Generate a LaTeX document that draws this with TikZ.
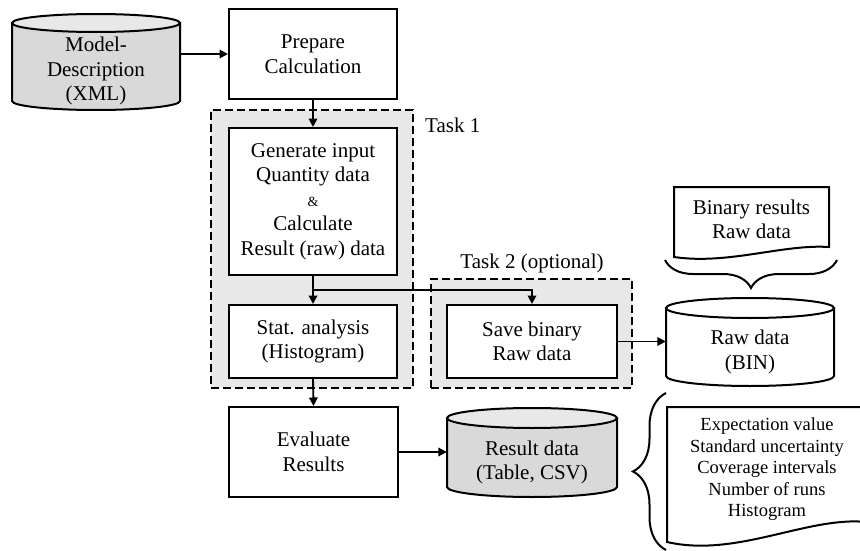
\documentclass[tikz,border=0pt]{standalone}
\usepackage{fontspec}
\setmainfont{Liberation Serif}
\usetikzlibrary{arrows.meta,decorations.pathreplacing}
\definecolor{grpfill}{HTML}{E8E8E8}
\definecolor{cylbody}{HTML}{D9D9D9}
\definecolor{cyltop}{HTML}{E8E8E8}
\newcommand\mainfs{\fontsize{21}{24.5}\selectfont}
\newcommand\docfs{\fontsize{18.5}{21.5}\selectfont}
% cylinder: name, x1, x2, ytop, ybot, r, body fill, top fill, text
\newcommand\mycyl[9]{%
  \pgfmathsetmacro\cylcx{(#2+#3)/2}%
  \pgfmathsetmacro\cylha{(#3-#2)/2}%
  \pgfmathsetmacro\cylyt{#4+#6}%
  \pgfmathsetmacro\cylyb{#5-#6}%
  \pgfmathsetmacro\cylkx{0.5523*\cylha}%
  \pgfmathsetmacro\cylky{0.5523*#6}%
  \pgfmathsetmacro\cylcy{(#4+2*#6+#5)/2}%
  \pgfmathsetmacro\cylw{#3-#2}%
  \pgfmathsetmacro\cylh{#5-#4-2*#6}%
  \draw[outline,fill=#7] (#2,\cylyt) -- (#2,\cylyb)
    .. controls (#2,\cylyb+\cylky) and (\cylcx-\cylkx,#5) .. (\cylcx,#5)
    .. controls (\cylcx+\cylkx,#5) and (#3,\cylyb+\cylky) .. (#3,\cylyb)
    -- (#3,\cylyt) -- cycle;
  \draw[outline,fill=#8] (\cylcx,\cylyt) ellipse [x radius=\cylha pt, y radius=#6 pt];
  \node[cyltext, minimum width=\cylw pt, minimum height=\cylh pt] (#1) at (\cylcx,\cylcy) {#9};
}
% document: name, x1, x2, ytop, bottom-left y, drop, text, font
\newcommand\mydoc[8]{%
  \pgfmathsetmacro\doccx{(#2+#3)/2}%
  \pgfmathsetmacro\docw{#3-#2}%
  \pgfmathsetmacro\docra{#3-0.3*\docw}%
  \pgfmathsetmacro\docla{#2+0.35*\docw}%
  \pgfmathsetmacro\docyr{#5-#6}%
  \pgfmathsetmacro\docyra{#5-1.3*#6}%
  \pgfmathsetmacro\docyla{#5+0.8*#6}%
  \pgfmathsetmacro\doccy{(#4+#5-#6/2)/2}%
  \draw[outline,fill=white] (#2,#4) -- (#3,#4) -- (#3,\docyr)
    .. controls (\docra,\docyra) and (\docla,\docyla) .. (#2,#5) -- cycle;
  \node[align=center, font=#8, inner sep=0pt] (#1) at (\doccx,\doccy) {#7};
}
\begin{document}
\begin{tikzpicture}[x=1pt,y=-1pt,
  outline/.style={line width=2pt, draw=black},
  box/.style={draw, line width=2pt, fill=white, align=center, font=\mainfs, inner sep=0pt},
  grp/.style={draw, fill=grpfill, line width=2.6pt, dash pattern=on 8pt off 4pt, inner sep=0pt},
  cyltext/.style={align=center, font=\mainfs, inner sep=0pt},
  arr/.style={line width=1.9pt, -{Triangle[length=8.5pt,width=8.5pt]}},
  brc/.style={line width=2pt, decorate},
]
\clip (0,0) rectangle (860,551);
\fill[white] (0,0) rectangle (860,551);

% groups
\node[grp, minimum width=202pt, minimum height=278pt] (task1) at (312,249) {};
\node[grp, minimum width=201pt, minimum height=109pt] (task2) at (531.5,333.5) {};
\node[anchor=west, font=\mainfs, inner sep=0pt] (t1lab) at (425,125) {Task 1};
\node[font=\mainfs, inner sep=0pt] (t2lab) at (532,263) {Task 2 (optional)};

% process boxes
\node[box, minimum width=168pt, minimum height=90pt] (prep) at (313,54) {Prepare\\Calculation};
\node[box, minimum width=168pt, minimum height=147pt] (gen) at (313,201.5)
  {Generate input\\Quantity data\\{\fontsize{14}{16}\selectfont\&}\\Calculate\\Result (raw) data};
\node[box, minimum width=168pt, minimum height=73pt] (stat) at (313,341.5) {Stat. analysis\\(Histogram)};
\node[box, minimum width=170pt, minimum height=73pt] (save) at (532,341.5) {Save binary\\Raw data};
\node[box, minimum width=169pt, minimum height=90pt] (eval) at (313.5,452) {Evaluate\\Results};

% data stores
\mycyl{model}{12}{180}{14}{110}{9}{cylbody}{cyltop}{Model-\\Description\\(XML)}
\mycyl{raw}{666}{834}{298}{386}{10}{white}{white}{Raw data\\(BIN)}
\mycyl{res}{447}{617}{408}{497}{10}{cylbody}{cyltop}{Result data\\(Table, CSV)}

% documents
\mydoc{bindoc}{674}{829}{187}{257}{10}{Binary results\\Raw data}{\mainfs}
\mydoc{resdoc}{667}{867}{407}{542}{20}{Expectation value\\Standard uncertainty\\Coverage intervals\\Number of runs\\Histogram}{\docfs}

% braces
\draw[brc, decoration={brace, amplitude=28pt, mirror}] (665,260) -- (837,260);
\draw[brc, decoration={brace, amplitude=33pt}] (666,550) -- (666,393);

% connectors
\draw[arr] (prep.west -| model.east) -- (prep.west);
\draw[arr] (prep.south) -- (gen.north);
\draw[arr] (gen.south) -- (stat.north);
\coordinate (brpt) at (313,290);
\draw[arr] (brpt) -| (save.north);
\draw[arr] (stat.south) -- (eval.north);
\draw[arr] (eval.east) -- (eval.east -| res.west);
\draw[arr] (save.east) -- (save.east -| raw.west);
\end{tikzpicture}
\end{document}
